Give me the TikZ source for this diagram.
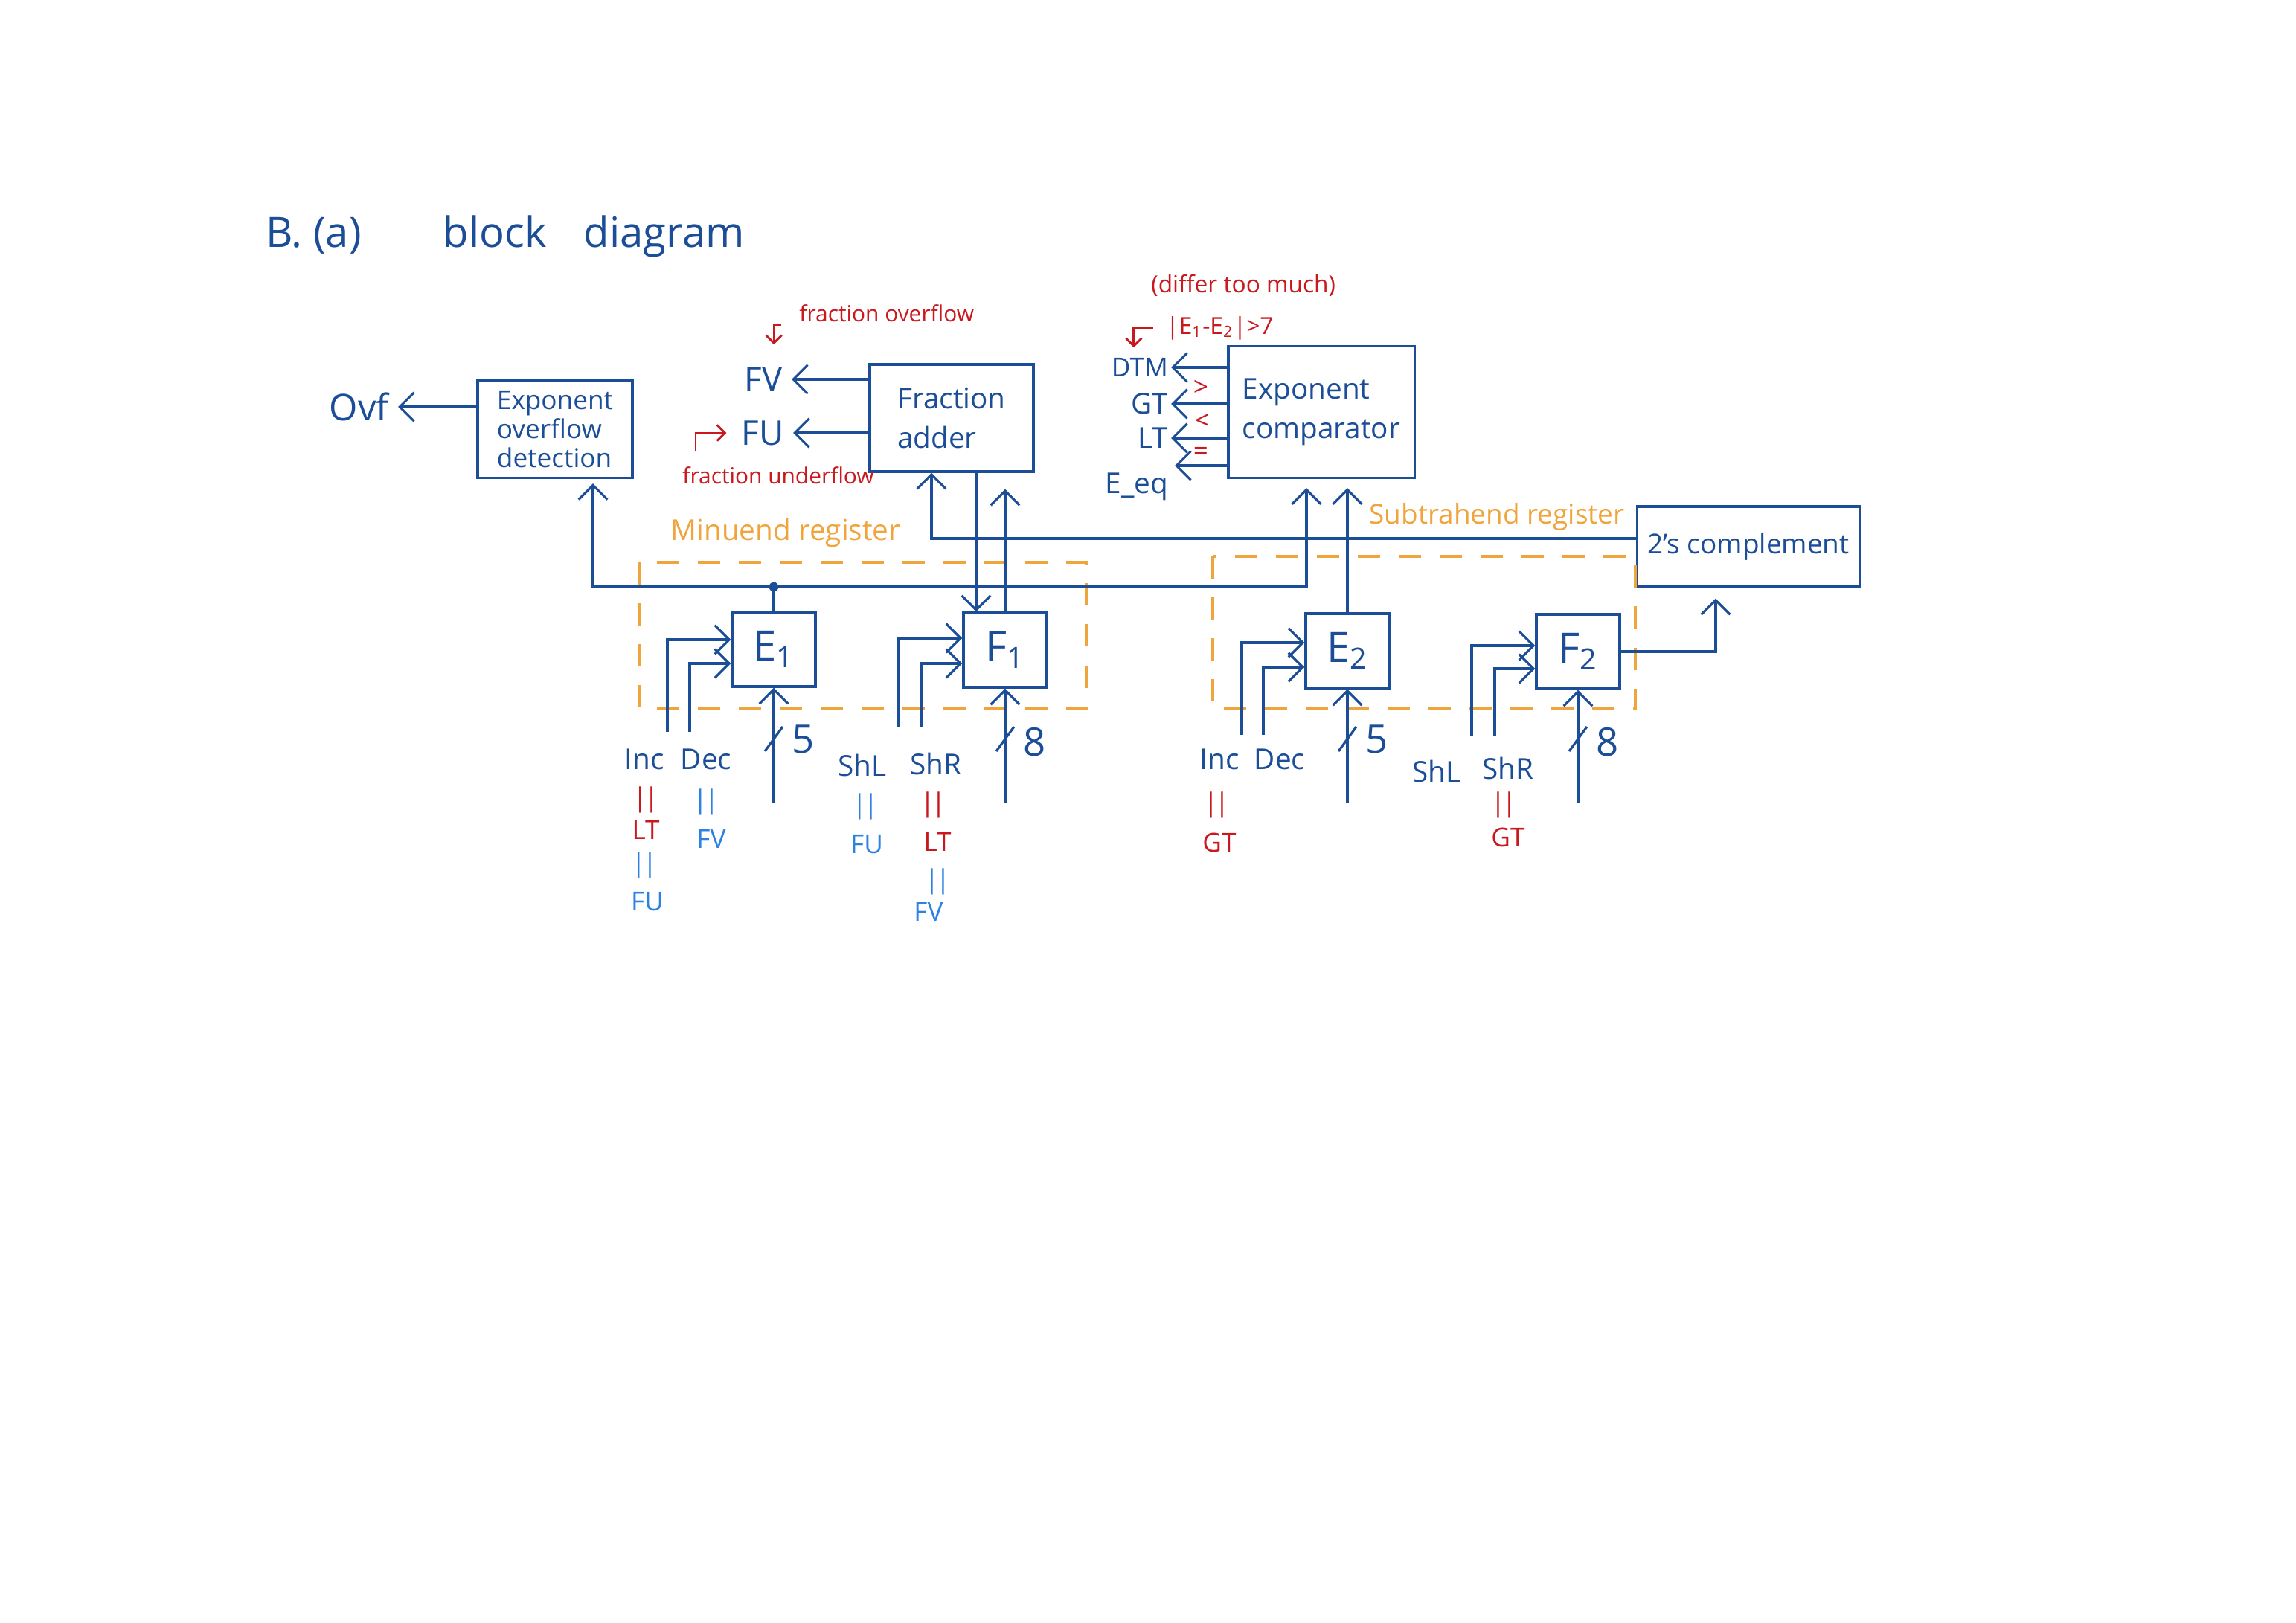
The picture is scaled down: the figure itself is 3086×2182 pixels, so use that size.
\documentclass[tikz,border=0pt]{standalone}
\usepackage{fontspec}
\setmainfont{Open Sans}
\usetikzlibrary{positioning,arrows.meta}
\definecolor{inkblue}{RGB}{28,78,152}
\definecolor{noteblue}{RGB}{45,130,225}
\definecolor{notered}{RGB}{200,25,30}
\definecolor{regorange}{RGB}{240,165,60}

\begin{document}
\begin{tikzpicture}[
  x=0.01cm, y=-0.01cm,
  font=\fontsize{11}{14}\selectfont, text=inkblue,
  blk/.style={draw=inkblue, line width=0.9pt, align=left, inner sep=4pt},
  reg/.style={draw=inkblue, line width=0.9pt, minimum width=1.12cm,
              minimum height=1.0cm, font=\fontsize{16}{18}\selectfont},
  arr/.style={-{Straight Barb[length=5.5pt,width=11pt]}, line width=0.9pt, draw=inkblue},
  wire/.style={line width=0.9pt, draw=inkblue},
  sig/.style={font=\fontsize{11}{13}\selectfont, inner sep=1pt},
  wlbl/.style={font=\fontsize{15}{17}\selectfont, inner sep=1pt},
  note/.style={text=notered, font=\fontsize{8.5}{10}\selectfont},
  eqr/.style={text=notered, font=\fontsize{10}{12}\selectfont, inner sep=1pt},
  eqb/.style={text=noteblue, font=\fontsize{10}{12}\selectfont, inner sep=1pt},
  hook/.style={-{Straight Barb[length=3pt,width=6pt]}, line width=0.8pt, draw=notered},
  regbox/.style={draw=regorange, line width=1pt, dash pattern=on 0.3cm off 0.25cm},
  orn/.style={text=regorange, font=\fontsize{10.5}{12}\selectfont}
]
\useasboundingbox (0,0) rectangle (3086,2182);

\node[font=\fontsize{16}{19}\selectfont, anchor=west] (title) at (345,318)
  {B. (a)\hspace{1.1cm}block\hspace{0.5cm}diagram};

%% main blocks
\node[blk, minimum width=2.08cm, minimum height=1.3cm,
      font=\fontsize{10}{11}\selectfont] (ovd) at (746,577) {Exponent\\overflow\\detection};
\node[blk, minimum width=2.2cm, minimum height=1.44cm,
      font=\fontsize{11}{15}\selectfont] (fadd) at (1279,562) {Fraction\\adder};
\node[blk, minimum width=2.5cm, minimum height=1.77cm,
      font=\fontsize{11}{15}\selectfont] (ecmp) at (1776,554) {Exponent\\comparator};
\node[blk, minimum width=2.93cm, minimum height=1.08cm, align=center,
      font=\fontsize{10.5}{13}\selectfont] (twos) at (2350,735) {2's complement};

%% registers
\node[reg] (E1) at (1040,873) {E\textsubscript{1}};
\node[reg] (F1) at (1351,874) {F\textsubscript{1}};
\node[reg] (E2) at (1811,875) {E\textsubscript{2}};
\node[reg] (F2) at (2121,876) {F\textsubscript{2}};

\draw[regbox] (860,756) rectangle (1460,953);
\draw[regbox] (1630,748) rectangle (2198,953);
\node[orn, font=\fontsize{11}{13}\selectfont] (minn) at (1056,716) {Minuend register};
\node[orn] (subn) at (2012,695) {Subtrahend register};

%% outputs of the blocks
\node[font=\fontsize{14}{16}\selectfont, anchor=east] (ovf) at (535,547) {Ovf};
\node[font=\fontsize{13}{15}\selectfont, anchor=east] (fv) at (1064,510) {FV};
\node[font=\fontsize{13}{15}\selectfont, anchor=east] (fu) at (1066,582) {FU};
\draw[arr] (ovd.west |- ovf.east) -- (ovf.east);
\draw[arr] (fadd.west |- fv.east) -- (fv.east);
\draw[arr] (fadd.west |- fu.east) -- (fu.east);

\node[sig, font=\fontsize{10}{12}\selectfont, anchor=east] (dtm) at (1574,494) {DTM};
\node[sig, anchor=east] (gt) at (1574,543) {GT};
\node[sig, anchor=east] (lt) at (1574,589) {LT};
\node[sig, anchor=north east] (eeq) at (1574,632) {E\_eq};
\coordinate (eqend) at (1579,626);
\draw[arr] (ecmp.west |- dtm.east) -- (dtm.east);
\draw[arr] (ecmp.west |- gt.east) -- (gt.east);
\draw[arr] (ecmp.west |- lt.east) -- (lt.east);
\draw[arr] (ecmp.west |- eqend) -- (eqend);
\node[eqr] (gtsym) at (1614,522) {>};
\node[eqr] (ltsym) at (1616,567) {<};
\node[eqr] (eqsym) at (1614,610) {=};

%% red notes
\node[note, anchor=west] (fovn) at (1062,421) {fraction overflow};
\node[note, anchor=north west] (fudn) at (905,615) {fraction underflow};
\node[note, font=\fontsize{9}{11}\selectfont, anchor=west] (dtmn) at (1535,384) {(differ too much)};
\node[note, font=\fontsize{9}{11}\selectfont, anchor=west] (absn) at (1555,441)
  {|E\textsubscript{1}-E\textsubscript{2}|>7};
\draw[hook] ([xshift=-0.12cm,yshift=-0.16cm]fovn.west) -| ([xshift=0.14cm,yshift=0.18cm]fv.north);
\draw[hook] ([xshift=0.3cm,yshift=0.08cm]fudn.north west) |- ([xshift=-0.08cm]fu.west);
\draw[hook] ([xshift=-0.05cm]absn.west) -| ([xshift=-0.08cm,yshift=0.1cm]dtm.north);

%% buses
\coordinate (bus1) at (0,789);
\coordinate (bot)  at (0,1080);
\coordinate (ovdin) at ([xshift=0.51cm]ovd.south);
\coordinate (cmpin) at ([xshift=-0.2cm]ecmp.south);
\coordinate (addin) at ([xshift=-0.27cm]fadd.south);
\coordinate (f1in)  at ([xshift=-0.39cm]F1.north);
\coordinate (twosin) at ([xshift=-0.44cm]twos.south);

\draw[wire] (E1.north) -- (E1.north |- bus1);
\fill[inkblue] (E1.north |- bus1) circle (1.8pt);
\draw[arr, shorten >=0.06cm] (E1.north |- bus1) -| (ovdin);
\draw[arr, shorten >=0.12cm] (E1.north |- bus1) -| (cmpin);
\draw[arr] ([yshift=0.11cm]twos.west) -| (addin);
\draw[arr] (fadd.south -| f1in) -- (f1in);
\draw[arr, shorten >=0.22cm] (F1.north) -- (F1.north |- fadd.south);
\draw[arr, shorten >=0.12cm] (E2.north) -- (E2.north |- ecmp.south);
\draw[arr, shorten >=0.14cm] (F2.east) -| (twosin);

%% register inputs
\coordinate (inc1) at (897,984);  \coordinate (dec1) at (927,984);
\coordinate (shl1) at (1208,978); \coordinate (shr1) at (1238,978);
\coordinate (inc2) at (1669,988); \coordinate (dec2) at (1698,988);
\coordinate (shl2) at (1978,990); \coordinate (shr2) at (2009,990);
\draw[arr] (inc1) |- ([yshift=0.13cm]E1.west);
\draw[arr] (dec1) |- ([yshift=-0.19cm]E1.west);
\draw[arr] (shl1) |- ([yshift=0.16cm]F1.west);
\draw[arr] (shr1) |- ([yshift=-0.18cm]F1.west);
\draw[arr] (inc2) |- ([yshift=0.11cm]E2.west);
\draw[arr] (dec2) |- ([yshift=-0.22cm]E2.west);
\draw[arr] (shl2) |- ([yshift=0.08cm]F2.west);
\draw[arr] (shr2) |- ([yshift=-0.23cm]F2.west);

\coordinate (e1b) at (E1.south |- bot); \coordinate (f1b) at (F1.south |- bot);
\coordinate (e2b) at (E2.south |- bot); \coordinate (f2b) at (F2.south |- bot);
\draw[arr] (e1b) -- (E1.south);  \draw[arr] (f1b) -- (F1.south);
\draw[arr] (e2b) -- (E2.south);  \draw[arr] (f2b) -- (F2.south);
\draw[wire] ([shift={(-12,-70)}]e1b) -- ([shift={(12,-103)}]e1b);
\draw[wire] ([shift={(-12,-70)}]f1b) -- ([shift={(12,-103)}]f1b);
\draw[wire] ([shift={(-12,-70)}]e2b) -- ([shift={(12,-103)}]e2b);
\draw[wire] ([shift={(-12,-70)}]f2b) -- ([shift={(12,-103)}]f2b);
\node[wlbl] (e1w) at ([shift={(40,-86)}]e1b) {5};
\node[wlbl] (f1w) at ([shift={(40,-82)}]f1b) {8};
\node[wlbl] (e2w) at ([shift={(40,-86)}]e2b) {5};
\node[wlbl] (f2w) at ([shift={(40,-82)}]f2b) {8};

%% control signal names
\node[sig] (incl1) at (866,1021) {Inc};
\node[sig] (decl1) at (949,1021) {Dec};
\node[sig] (shll1) at (1159,1029) {ShL};
\node[sig] (shrl1) at (1258,1027) {ShR};
\node[sig] (incl2) at (1639,1021) {Inc};
\node[sig] (decl2) at (1720,1021) {Dec};
\node[sig] (shll2) at (1931,1037) {ShL};
\node[sig] (shrl2) at (2027,1033) {ShR};

\node[eqr] (inc1e) at (868,1075) {|\kern-1.2pt|};  \node[eqr] (inc1lt) at (868,1116) {LT};
\node[eqb] (inc1f) at (866,1163) {|\kern-1.2pt|};  \node[eqb] (inc1fu) at (870,1212) {FU};
\node[eqb] (dec1e) at (949,1078) {|\kern-1.2pt|};  \node[eqb] (dec1fv) at (956,1128) {FV};
\node[eqb] (shl1e) at (1163,1084) {|\kern-1.2pt|}; \node[eqb] (shl1fu) at (1165,1135) {FU};
\node[eqr] (shr1e) at (1254,1082) {|\kern-1.2pt|}; \node[eqr] (shr1lt) at (1260,1132) {LT};
\node[eqb] (shr1f) at (1260,1185) {|\kern-1.2pt|}; \node[eqb] (shr1fv) at (1248,1226) {FV};
\node[eqr] (inc2e) at (1635,1082) {|\kern-1.2pt|}; \node[eqr] (inc2gt) at (1639,1133) {GT};
\node[eqr] (shr2e) at (2021,1082) {|\kern-1.2pt|}; \node[eqr] (shr2gt) at (2027,1126) {GT};
\end{tikzpicture}
\end{document}
